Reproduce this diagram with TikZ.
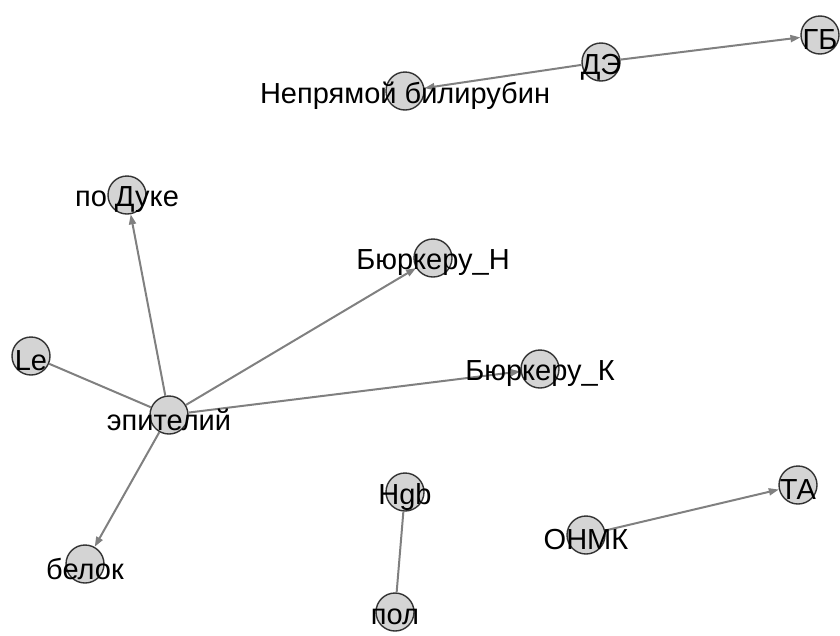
\documentclass[tikz,border=0pt]{standalone}
\usepackage{fontspec}
\setmainfont{Liberation Sans}
\usetikzlibrary{arrows.meta}
\begin{document}
\begin{tikzpicture}[x=1pt,y=-1pt,
  vert/.style={circle,draw=black!80,line width=1.4pt,fill=black!17,minimum size=38pt,inner sep=0pt},
  lab/.style={font=\fontsize{29}{29}\selectfont,inner sep=0pt,yshift=-5pt},
  edge/.style={draw=black!50,line width=2pt},
  arr/.style={edge,-{Triangle[length=10pt,width=7pt]}}]
\useasboundingbox (0,0) rectangle (840,635);
\node[vert] (gb) at (820,35) {};
\node[vert] (de) at (601,62) {};
\node[vert] (nb) at (405,91) {};
\node[vert] (pd) at (127,195) {};
\node[vert] (bn) at (433,258) {};
\node[vert] (le) at (31,356) {};
\node[vert] (bk) at (540,369) {};
\node[vert] (ep) at (169,415) {};
\node[vert] (hgb) at (405,492) {};
\node[vert] (ta) at (798,485) {};
\node[vert] (onmk) at (586,535) {};
\node[vert] (bel) at (85,564) {};
\node[vert] (pol) at (395,612) {};
\draw[arr] (de) -- (gb);
\draw[arr] (de) -- (nb);
\draw[arr] (ep) -- (pd);
\draw[arr] (ep) -- (bn);
\draw[arr] (ep) -- (bk);
\draw[edge] (le) -- (ep);
\draw[arr] (ep) -- (bel);
\draw[edge] (hgb) -- (pol);
\draw[arr] (onmk) -- (ta);
\node[lab] (lgb) at (gb) {ГБ};
\node[lab] (lde) at (de) {ДЭ};
\node[lab] (lnb) at (nb) {Непрямой билирубин};
\node[lab] (lpd) at (pd) {по Дуке};
\node[lab] (lbn) at (bn) {Бюркеру\_Н};
\node[lab] (lle) at (le) {Le};
\node[lab] (lbk) at (bk) {Бюркеру\_К};
\node[lab] (lep) at (ep) {эпителий};
\node[lab] (lhgb) at (hgb) {Hgb};
\node[lab] (lta) at (ta) {ТА};
\node[lab] (lonmk) at (onmk) {ОНМК};
\node[lab] (lbel) at (bel) {белок};
\node[lab] (lpol) at (pol) {пол};
\end{tikzpicture}
\end{document}
